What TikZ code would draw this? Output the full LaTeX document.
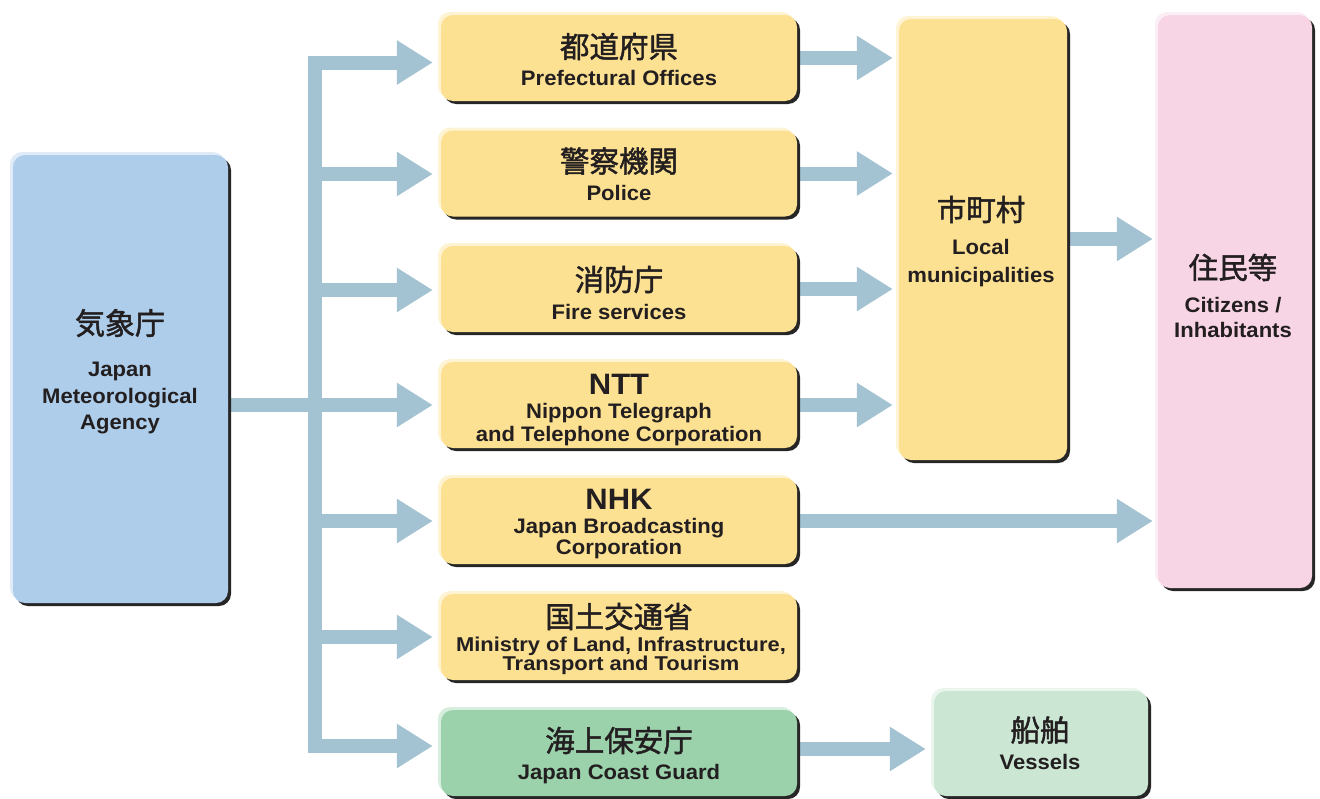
\documentclass[tikz,border=0pt]{standalone}
\usepackage{fontspec}
\setmainfont{Liberation Sans}[FakeStretch=1.05]
\newfontfamily\cjk{Noto Sans CJK JP}[FakeBold=1.6]
\usetikzlibrary{arrows.meta}
\definecolor{arr}{HTML}{A3C3D2}
\definecolor{ink}{HTML}{231F20}
\definecolor{cblue}{HTML}{AECDEA}
\definecolor{cyel}{HTML}{FDE192}
\definecolor{cpink}{HTML}{F8D5E5}
\definecolor{cgreen}{HTML}{9BD2AC}
\definecolor{clgreen}{HTML}{CBE6D3}
\begin{document}
\begin{tikzpicture}[x=1pt,y=-1pt,
  box/.style={rounded corners=12pt, inner sep=0pt, draw=none,
    preaction={fill=black!85, transform canvas={shift={(3pt,-3pt)}}},
    preaction={fill=#1!40!white, transform canvas={shift={(-3pt,3pt)}}},
    fill=#1},
  cj/.style={font=\cjk\fontsize{29.5}{29.5}\selectfont, text=ink, inner sep=0pt, text height=24.5pt, text depth=2.1pt},
  en/.style={font=\bfseries\fontsize{21}{21}\selectfont, text=ink, inner sep=0pt, text height=15.1pt, text depth=0pt},
  ens/.style={font=\bfseries\fontsize{20}{20}\selectfont\addfontfeatures{FakeStretch=1.095}, text=ink, inner sep=0pt, text height=14.4pt, text depth=0pt},
  big/.style={font=\bfseries\fontsize{29.5}{29.5}\selectfont, text=ink, inner sep=0pt, text height=21.2pt, text depth=0pt},
  fat/.style={draw=arr, line width=14pt, -{Triangle[length=36pt,width=42pt]}},
  bar/.style={draw=arr, line width=14pt}]
\useasboundingbox (0,0) rectangle (1320,798);

% ---------- box positions ----------
\path
  (120.5,379) coordinate (cjma)
  (619,58)   coordinate (c1)
  (619,173.5) coordinate (c2)
  (619,289)  coordinate (c3)
  (619,405)  coordinate (c4)
  (619,521)  coordinate (c5)
  (619,637)  coordinate (c6)
  (619,753)  coordinate (c7)
  (983,239.5) coordinate (cmu)
  (1235,301.5) coordinate (cpi)
  (1041,743.5) coordinate (cve);

% anchors of the boxes
\node[minimum width=215pt, minimum height=448pt, inner sep=0pt] (jma) at (cjma) {};
\foreach \i in {1,...,7}{\node[minimum width=356pt, minimum height=86pt, inner sep=0pt] (p\i) at (c\i) {};}
\node[minimum width=168pt, minimum height=441pt, inner sep=0pt] (mu) at (cmu) {};
\node[minimum width=154pt, minimum height=573pt, inner sep=0pt] (pi) at (cpi) {};
\node[minimum width=214pt, minimum height=105pt, inner sep=0pt] (ve) at (cve) {};

% ---------- connectors ----------
\coordinate (k1) at (308,62.5);
\coordinate (k2) at (308,174);
\coordinate (k3) at (308,290);
\coordinate (k4) at (308,405);
\coordinate (k5) at (308,521);
\coordinate (k6) at (308,637);
\coordinate (k7) at (308,746);
\fill[arr] (308,55.5) rectangle (322,753);
\draw[bar] (jma.east |- k4) -- ([xshift=7pt]k4);
\foreach \i in {1,...,7}{\draw[fat, shorten >=8pt] (k\i) -- (k\i -| p\i.west);}
\coordinate (m1) at (800,58);
\coordinate (m2) at (800,173.5);
\coordinate (m3) at (800,289);
\coordinate (m4) at (800,405);
\foreach \i in {1,...,4}{\draw[fat, shorten >=6pt] (p\i.east |- m\i) -- (mu.west |- m\i);}
\coordinate (mp) at (1067,239);
\draw[fat, shorten >=5pt] (mp) -- (pi.west |- mp);
\coordinate (np) at (800,521);
\draw[fat, shorten >=5pt] (p5.east |- np) -- (pi.west |- np);
\coordinate (gv) at (800,749);
\draw[fat, shorten >=8pt] (p7.east |- gv) -- (ve.west |- gv);

% ---------- visible boxes ----------
\node[box=cblue, minimum width=215pt, minimum height=448pt] at (cjma) {};
\foreach \i in {1,...,6}{\node[box=cyel, minimum width=356pt, minimum height=86pt] at (c\i) {};}
\node[box=cgreen, minimum width=356pt, minimum height=86pt] at (c7) {};
\node[box=cyel, minimum width=168pt, minimum height=441pt] at (cmu) {};
\node[box=cpink, minimum width=154pt, minimum height=573pt] at (cpi) {};
\node[box=clgreen, minimum width=214pt, minimum height=105pt] at (cve) {};

% ---------- texts ----------
\node[cj, font=\cjk\fontsize{30}{30}\selectfont, text height=24.9pt, text depth=2.1pt] (ta) at (120,323) {気象庁};
\node[en] (tb) at (120,369) {Japan};
\node[en] (tc) at (120,395.5) {Meteorological};
\node[en] (td) at (120,422) {Agency};

\node[cj] (t1a) at (619,46.5) {都道府県};
\node[en] (t1b) at (619,77.5) {Prefectural Offices};
\node[cj] (t2a) at (619,161) {警察機関};
\node[en] (t2b) at (619,192.5) {Police};
\node[cj] (t3a) at (619,279.5) {消防庁};
\node[en] (t3b) at (619,311.5) {Fire services};
\node[big] (t4a) at (619,384) {NTT};
\node[en] (t4b) at (619,410.5) {Nippon Telegraph};
\node[en] (t4c) at (619,434) {and Telephone Corporation};
\node[big] (t5a) at (619,498.5) {NHK};
\node[en] (t5b) at (619,525.5) {Japan Broadcasting};
\node[en] (t5c) at (619,547) {Corporation};
\node[cj] (t6a) at (619,616.5) {国土交通省};
\node[ens] (t6b) at (621,644) {Ministry of Land, Infrastructure,};
\node[ens] (t6c) at (621,663.5) {Transport and Tourism};
\node[cj] (t7a) at (619,740.5) {海上保安庁};
\node[en] (t7b) at (619,772) {Japan Coast Guard};

\node[cj] (tma) at (981,209.5) {市町村};
\node[en] (tmb) at (981,246.5) {Local};
\node[en] (tmc) at (981,275) {municipalities};

\node[cj] (tpa) at (1233,267.5) {住民等};
\node[en] (tpb) at (1233,304.5) {Citizens /};
\node[en] (tpc) at (1233,330) {Inhabitants};

\node[cj] (tva) at (1040,730) {船舶};
\node[en] (tvb) at (1040,761.5) {Vessels};
\end{tikzpicture}
\end{document}
